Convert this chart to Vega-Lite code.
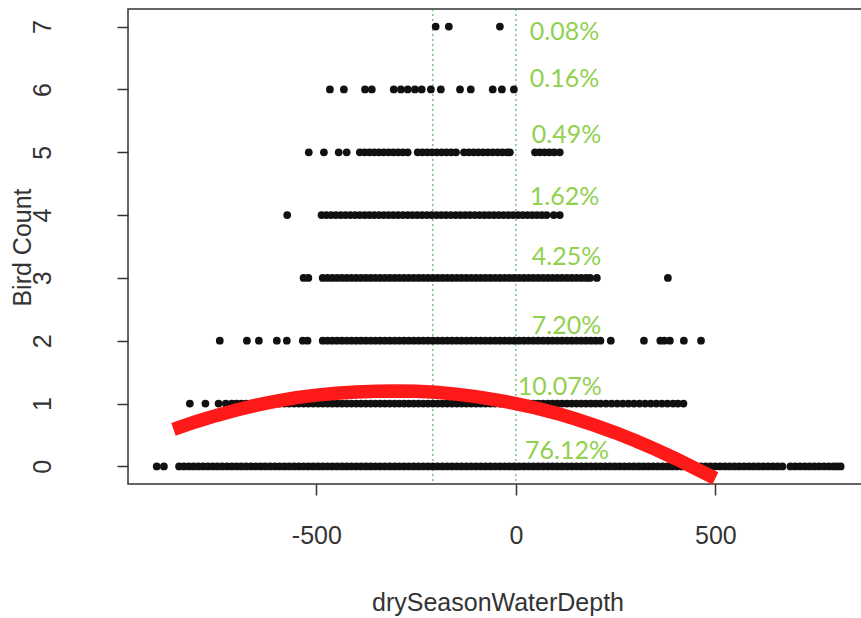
{
  "$schema": "https://vega.github.io/schema/vega-lite/v6.json",
  "autosize": "none",
  "width": 739,
  "height": 475,
  "padding": {"left": 128, "top": 9, "right": 0, "bottom": 134},
  "background": "white",
  "config": {
    "view": {"stroke": "#333", "strokeWidth": 1.5},
    "axis": {"grid": false, "domain": false, "tickColor": "#333", "tickWidth": 1.5, "tickSize": 11, "labelFont": "Liberation Sans", "labelFontSize": 25, "labelColor": "#333", "titleFont": "Liberation Sans", "titleFontSize": 25, "titleFontWeight": "normal", "titleColor": "#333", "labelOverlap": false, "labelFlush": false}
  },
  "datasets": {
    "pts": [
      {"d":-900,"c":0},{"d":-882,"c":0},{"d":-844,"c":0},{"d":-832,"c":0},{"d":-820,"c":0},{"d":-808,"c":0},{"d":-796,"c":0},{"d":-784,"c":0},{"d":-772,"c":0},{"d":-760,"c":0},{"d":-748,"c":0},{"d":-736,"c":0},{"d":-724,"c":0},{"d":-712,"c":0},{"d":-700,"c":0},{"d":-688,"c":0},{"d":-676,"c":0},{"d":-664,"c":0},{"d":-652,"c":0},{"d":-640,"c":0},{"d":-628,"c":0},{"d":-616,"c":0},{"d":-604,"c":0},{"d":-592,"c":0},{"d":-580,"c":0},{"d":-568,"c":0},{"d":-556,"c":0},{"d":-544,"c":0},{"d":-532,"c":0},{"d":-520,"c":0},{"d":-508,"c":0},{"d":-496,"c":0},{"d":-484,"c":0},{"d":-472,"c":0},{"d":-460,"c":0},{"d":-448,"c":0},{"d":-436,"c":0},{"d":-424,"c":0},{"d":-412,"c":0},{"d":-400,"c":0},{"d":-388,"c":0},{"d":-376,"c":0},{"d":-364,"c":0},{"d":-352,"c":0},{"d":-340,"c":0},{"d":-328,"c":0},{"d":-316,"c":0},{"d":-304,"c":0},{"d":-292,"c":0},{"d":-280,"c":0},{"d":-268,"c":0},{"d":-256,"c":0},{"d":-244,"c":0},{"d":-232,"c":0},{"d":-220,"c":0},{"d":-208,"c":0},{"d":-196,"c":0},{"d":-184,"c":0},{"d":-172,"c":0},{"d":-160,"c":0},{"d":-148,"c":0},{"d":-136,"c":0},{"d":-124,"c":0},{"d":-112,"c":0},{"d":-100,"c":0},{"d":-88,"c":0},{"d":-76,"c":0},{"d":-64,"c":0},{"d":-52,"c":0},{"d":-40,"c":0},{"d":-28,"c":0},{"d":-16,"c":0},{"d":-4,"c":0},{"d":8,"c":0},{"d":20,"c":0},{"d":32,"c":0},{"d":44,"c":0},{"d":56,"c":0},{"d":68,"c":0},{"d":80,"c":0},{"d":92,"c":0},{"d":104,"c":0},{"d":116,"c":0},{"d":128,"c":0},{"d":140,"c":0},{"d":152,"c":0},{"d":164,"c":0},{"d":176,"c":0},{"d":188,"c":0},{"d":200,"c":0},{"d":212,"c":0},{"d":224,"c":0},{"d":236,"c":0},{"d":248,"c":0},{"d":260,"c":0},{"d":272,"c":0},{"d":284,"c":0},{"d":296,"c":0},{"d":308,"c":0},{"d":320,"c":0},{"d":332,"c":0},{"d":344,"c":0},{"d":356,"c":0},{"d":368,"c":0},{"d":380,"c":0},{"d":392,"c":0},{"d":404,"c":0},{"d":416,"c":0},{"d":428,"c":0},{"d":440,"c":0},{"d":452,"c":0},{"d":464,"c":0},{"d":476,"c":0},{"d":488,"c":0},{"d":500,"c":0},{"d":512,"c":0},{"d":524,"c":0},{"d":536,"c":0},{"d":548,"c":0},{"d":560,"c":0},{"d":572,"c":0},{"d":584,"c":0},{"d":596,"c":0},{"d":608,"c":0},{"d":620,"c":0},{"d":632,"c":0},{"d":644,"c":0},{"d":656,"c":0},{"d":668,"c":0},{"d":688,"c":0},{"d":700,"c":0},{"d":712,"c":0},{"d":724,"c":0},{"d":736,"c":0},{"d":748,"c":0},{"d":760,"c":0},{"d":772,"c":0},{"d":784,"c":0},{"d":796,"c":0},{"d":805,"c":0},{"d":814,"c":0},
      {"d":-817,"c":1},{"d":-778,"c":1},{"d":-745,"c":1},{"d":-727,"c":1},{"d":-712,"c":1},{"d":-700,"c":1},{"d":-688,"c":1},{"d":-676,"c":1},{"d":-664,"c":1},{"d":-652,"c":1},{"d":-640,"c":1},{"d":-628,"c":1},{"d":-616,"c":1},{"d":-604,"c":1},{"d":-592,"c":1},{"d":-580,"c":1},{"d":-568,"c":1},{"d":-556,"c":1},{"d":-544,"c":1},{"d":-532,"c":1},{"d":-520,"c":1},{"d":-508,"c":1},{"d":-496,"c":1},{"d":-484,"c":1},{"d":-472,"c":1},{"d":-460,"c":1},{"d":-448,"c":1},{"d":-436,"c":1},{"d":-424,"c":1},{"d":-412,"c":1},{"d":-400,"c":1},{"d":-388,"c":1},{"d":-376,"c":1},{"d":-364,"c":1},{"d":-352,"c":1},{"d":-340,"c":1},{"d":-328,"c":1},{"d":-316,"c":1},{"d":-304,"c":1},{"d":-292,"c":1},{"d":-280,"c":1},{"d":-268,"c":1},{"d":-256,"c":1},{"d":-244,"c":1},{"d":-232,"c":1},{"d":-220,"c":1},{"d":-208,"c":1},{"d":-196,"c":1},{"d":-184,"c":1},{"d":-172,"c":1},{"d":-160,"c":1},{"d":-148,"c":1},{"d":-136,"c":1},{"d":-124,"c":1},{"d":-112,"c":1},{"d":-100,"c":1},{"d":-88,"c":1},{"d":-76,"c":1},{"d":-64,"c":1},{"d":-52,"c":1},{"d":-40,"c":1},{"d":-28,"c":1},{"d":-16,"c":1},{"d":-4,"c":1},{"d":8,"c":1},{"d":20,"c":1},{"d":32,"c":1},{"d":44,"c":1},{"d":56,"c":1},{"d":68,"c":1},{"d":80,"c":1},{"d":92,"c":1},{"d":104,"c":1},{"d":116,"c":1},{"d":128,"c":1},{"d":140,"c":1},{"d":152,"c":1},{"d":164,"c":1},{"d":176,"c":1},{"d":188,"c":1},{"d":200,"c":1},{"d":212,"c":1},{"d":226,"c":1},{"d":240,"c":1},{"d":254,"c":1},{"d":268,"c":1},{"d":282,"c":1},{"d":296,"c":1},{"d":310,"c":1},{"d":324,"c":1},{"d":338,"c":1},{"d":352,"c":1},{"d":366,"c":1},{"d":380,"c":1},{"d":394,"c":1},{"d":406,"c":1},{"d":420,"c":1},
      {"d":-742,"c":2},{"d":-674,"c":2},{"d":-644,"c":2},{"d":-599,"c":2},{"d":-574,"c":2},{"d":-534,"c":2},{"d":-522,"c":2},{"d":-484,"c":2},{"d":-472,"c":2},{"d":-460,"c":2},{"d":-448,"c":2},{"d":-436,"c":2},{"d":-424,"c":2},{"d":-412,"c":2},{"d":-400,"c":2},{"d":-388,"c":2},{"d":-376,"c":2},{"d":-364,"c":2},{"d":-352,"c":2},{"d":-340,"c":2},{"d":-328,"c":2},{"d":-316,"c":2},{"d":-304,"c":2},{"d":-292,"c":2},{"d":-280,"c":2},{"d":-268,"c":2},{"d":-256,"c":2},{"d":-244,"c":2},{"d":-232,"c":2},{"d":-220,"c":2},{"d":-208,"c":2},{"d":-196,"c":2},{"d":-184,"c":2},{"d":-172,"c":2},{"d":-160,"c":2},{"d":-148,"c":2},{"d":-136,"c":2},{"d":-124,"c":2},{"d":-112,"c":2},{"d":-100,"c":2},{"d":-88,"c":2},{"d":-76,"c":2},{"d":-64,"c":2},{"d":-52,"c":2},{"d":-40,"c":2},{"d":-28,"c":2},{"d":-16,"c":2},{"d":-4,"c":2},{"d":8,"c":2},{"d":20,"c":2},{"d":32,"c":2},{"d":44,"c":2},{"d":56,"c":2},{"d":68,"c":2},{"d":80,"c":2},{"d":92,"c":2},{"d":104,"c":2},{"d":116,"c":2},{"d":128,"c":2},{"d":140,"c":2},{"d":152,"c":2},{"d":164,"c":2},{"d":176,"c":2},{"d":188,"c":2},{"d":200,"c":2},{"d":212,"c":2},{"d":238,"c":2},{"d":321,"c":2},{"d":362,"c":2},{"d":372,"c":2},{"d":386,"c":2},{"d":421,"c":2},{"d":464,"c":2},
      {"d":-532,"c":3},{"d":-520,"c":3},{"d":-484,"c":3},{"d":-472,"c":3},{"d":-460,"c":3},{"d":-448,"c":3},{"d":-436,"c":3},{"d":-424,"c":3},{"d":-412,"c":3},{"d":-400,"c":3},{"d":-388,"c":3},{"d":-376,"c":3},{"d":-364,"c":3},{"d":-352,"c":3},{"d":-340,"c":3},{"d":-328,"c":3},{"d":-316,"c":3},{"d":-304,"c":3},{"d":-292,"c":3},{"d":-280,"c":3},{"d":-268,"c":3},{"d":-256,"c":3},{"d":-244,"c":3},{"d":-232,"c":3},{"d":-220,"c":3},{"d":-208,"c":3},{"d":-196,"c":3},{"d":-184,"c":3},{"d":-172,"c":3},{"d":-160,"c":3},{"d":-148,"c":3},{"d":-136,"c":3},{"d":-124,"c":3},{"d":-112,"c":3},{"d":-100,"c":3},{"d":-88,"c":3},{"d":-76,"c":3},{"d":-64,"c":3},{"d":-52,"c":3},{"d":-40,"c":3},{"d":-28,"c":3},{"d":-16,"c":3},{"d":-4,"c":3},{"d":8,"c":3},{"d":20,"c":3},{"d":32,"c":3},{"d":44,"c":3},{"d":56,"c":3},{"d":68,"c":3},{"d":80,"c":3},{"d":92,"c":3},{"d":104,"c":3},{"d":116,"c":3},{"d":128,"c":3},{"d":140,"c":3},{"d":152,"c":3},{"d":164,"c":3},{"d":176,"c":3},{"d":186,"c":3},{"d":203,"c":3},{"d":381,"c":3},
      {"d":-573,"c":4},{"d":-487,"c":4},{"d":-475,"c":4},{"d":-463,"c":4},{"d":-451,"c":4},{"d":-439,"c":4},{"d":-427,"c":4},{"d":-415,"c":4},{"d":-403,"c":4},{"d":-391,"c":4},{"d":-379,"c":4},{"d":-367,"c":4},{"d":-355,"c":4},{"d":-343,"c":4},{"d":-331,"c":4},{"d":-319,"c":4},{"d":-307,"c":4},{"d":-295,"c":4},{"d":-283,"c":4},{"d":-271,"c":4},{"d":-259,"c":4},{"d":-247,"c":4},{"d":-235,"c":4},{"d":-223,"c":4},{"d":-211,"c":4},{"d":-199,"c":4},{"d":-187,"c":4},{"d":-175,"c":4},{"d":-163,"c":4},{"d":-151,"c":4},{"d":-139,"c":4},{"d":-127,"c":4},{"d":-115,"c":4},{"d":-103,"c":4},{"d":-91,"c":4},{"d":-79,"c":4},{"d":-67,"c":4},{"d":-55,"c":4},{"d":-43,"c":4},{"d":-31,"c":4},{"d":-19,"c":4},{"d":-7,"c":4},{"d":5,"c":4},{"d":17,"c":4},{"d":29,"c":4},{"d":41,"c":4},{"d":53,"c":4},{"d":65,"c":4},{"d":77,"c":4},{"d":95,"c":4},{"d":110,"c":4},
      {"d":-519,"c":5},{"d":-481,"c":5},{"d":-444,"c":5},{"d":-424,"c":5},{"d":-391,"c":5},{"d":-379,"c":5},{"d":-367,"c":5},{"d":-355,"c":5},{"d":-343,"c":5},{"d":-331,"c":5},{"d":-319,"c":5},{"d":-307,"c":5},{"d":-295,"c":5},{"d":-283,"c":5},{"d":-271,"c":5},{"d":-246,"c":5},{"d":-234,"c":5},{"d":-222,"c":5},{"d":-210,"c":5},{"d":-198,"c":5},{"d":-186,"c":5},{"d":-174,"c":5},{"d":-162,"c":5},{"d":-150,"c":5},{"d":-130,"c":5},{"d":-118,"c":5},{"d":-106,"c":5},{"d":-94,"c":5},{"d":-82,"c":5},{"d":-70,"c":5},{"d":-58,"c":5},{"d":-46,"c":5},{"d":-34,"c":5},{"d":-22,"c":5},{"d":-15,"c":5},{"d":48,"c":5},{"d":60,"c":5},{"d":72,"c":5},{"d":84,"c":5},{"d":96,"c":5},{"d":110,"c":5},
      {"d":-466,"c":6},{"d":-431,"c":6},{"d":-378,"c":6},{"d":-361,"c":6},{"d":-306,"c":6},{"d":-288,"c":6},{"d":-271,"c":6},{"d":-253,"c":6},{"d":-236,"c":6},{"d":-213,"c":6},{"d":-188,"c":6},{"d":-140,"c":6},{"d":-113,"c":6},{"d":-58,"c":6},{"d":-35,"c":6},{"d":-5,"c":6},
      {"d":-201,"c":7},{"d":-168,"c":7},{"d":-40,"c":7}
    ],
    "curve": [
      {"d":-858,"c":0.59},{"d":-800,"c":0.715},{"d":-750,"c":0.812},{"d":-700,"c":0.899},{"d":-650,"c":0.975},{"d":-600,"c":1.04},{"d":-550,"c":1.095},{"d":-500,"c":1.135},{"d":-450,"c":1.165},{"d":-400,"c":1.185},{"d":-350,"c":1.197},{"d":-300,"c":1.2},{"d":-250,"c":1.195},{"d":-200,"c":1.18},{"d":-150,"c":1.15},{"d":-100,"c":1.11},{"d":-50,"c":1.06},{"d":0,"c":1.0},{"d":50,"c":0.93},{"d":100,"c":0.848},{"d":150,"c":0.755},{"d":200,"c":0.65},{"d":250,"c":0.534},{"d":300,"c":0.407},{"d":350,"c":0.271},{"d":400,"c":0.125},{"d":450,"c":-0.033},{"d":500,"c":-0.19}
    ],
    "vlines": [{"d":-208},{"d":0}],
    "labels": [
      {"d":35,"c":6.92,"t":"0.08%"},{"d":35,"c":6.16,"t":"0.16%"},{"d":40,"c":5.27,"t":"0.49%"},{"d":35,"c":4.28,"t":"1.62%"},{"d":40,"c":3.34,"t":"4.25%"},{"d":40,"c":2.23,"t":"7.20%"},{"d":5,"c":1.26,"t":"10.07%"},{"d":23,"c":0.24,"t":"76.12%"}
    ]
  },
  "layer": [
    {
      "data": {"name": "vlines"},
      "mark": {"type": "rule", "color": "#3a9a3a", "strokeWidth": 1.2, "strokeDash": [2, 3], "opacity": 0.8},
      "encoding": {
        "x": {"field": "d", "type": "quantitative", "scale": {"domain": [-972, 880], "nice": false, "zero": false}, "axis": {"values": [-500, 0, 500], "labelExpr": "'' + datum.value", "title": "drySeasonWaterDepth", "labelPadding": 40, "labelBaseline": "middle", "titleY": 118, "titleBaseline": "middle"}}
      }
    },
    {
      "data": {"name": "pts"},
      "mark": {"type": "circle", "size": 60, "color": "#111", "opacity": 1},
      "encoding": {
        "x": {"field": "d", "type": "quantitative"},
        "y": {"field": "c", "type": "quantitative", "scale": {"domain": [-0.28, 7.28], "nice": false, "zero": false}, "axis": {"values": [0, 1, 2, 3, 4, 5, 6, 7], "labelExpr": "'' + datum.value", "title": "Bird Count", "labelAngle": -90, "labelAlign": "center", "labelBaseline": "middle", "labelPadding": 75, "titleX": -106, "titleY": 238, "titleBaseline": "middle", "titleAlign": "center", "titleAngle": -90}}
      }
    },
    {
      "data": {"name": "curve"},
      "mark": {"type": "line", "color": "#ff1a1a", "strokeWidth": 13.5, "strokeCap": "butt"},
      "encoding": {
        "x": {"field": "d", "type": "quantitative"},
        "y": {"field": "c", "type": "quantitative"}
      }
    },
    {
      "data": {"name": "labels"},
      "mark": {"type": "text", "align": "left", "baseline": "middle", "font": "Lato", "fontSize": 25, "color": "#92d050"},
      "encoding": {
        "x": {"field": "d", "type": "quantitative"},
        "y": {"field": "c", "type": "quantitative"},
        "text": {"field": "t"}
      }
    }
  ]
}
